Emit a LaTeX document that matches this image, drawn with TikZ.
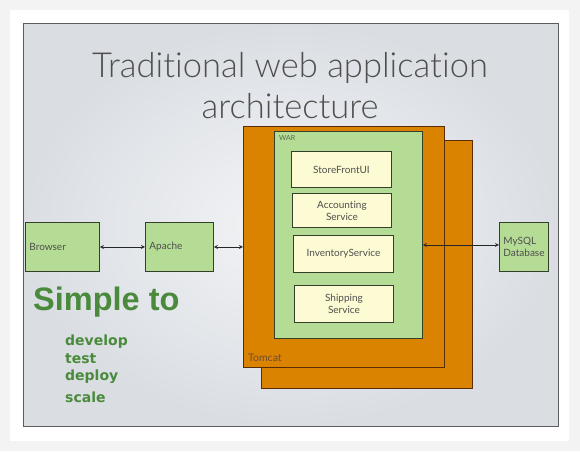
\documentclass[tikz,border=0pt]{standalone}
\usepackage{fontspec}
\setmainfont{Lato}[Ligatures=NoCommon]
\newfontfamily\titlefont{Lato Light}[Ligatures=NoCommon]
\newfontfamily\arialbold{Liberation Sans}[BoldFont=* Bold]
\newfontfamily\listfont{DejaVu Sans}
\usetikzlibrary{positioning,arrows,calc}

\definecolor{pagegray}{HTML}{F3F3F3}
\definecolor{slideedge}{HTML}{DADEE3}
\definecolor{slidemid}{HTML}{F3F4F6}
\definecolor{framegray}{HTML}{5C5C5C}
\definecolor{tomcatorange}{HTML}{D98300}
\definecolor{tomcatline}{HTML}{5A2D08}
\definecolor{boxgreen}{HTML}{B4DC94}
\definecolor{boxline}{HTML}{34402C}
\definecolor{cream}{HTML}{FDFBD3}
\definecolor{textgray}{HTML}{4F4F4F}
\definecolor{simplegreen}{HTML}{4A8A3C}

\begin{document}
\begin{tikzpicture}[x=1pt,y=-1pt,>=stealth,
            tier/.style={draw=boxline, fill=boxgreen, line width=0.9pt, anchor=north west,
                inner sep=0pt, inner xsep=4pt, align=left, text=textgray,
                font=\fontsize{10}{11.5}\selectfont},
            container/.style={draw=tomcatline, fill=tomcatorange, line width=0.9pt,
                anchor=north west, inner sep=0pt},
            service/.style={draw=boxline, fill=cream, line width=0.9pt, anchor=north west,
                inner sep=0pt, align=center, text=textgray,
                font=\fontsize{10}{12}\selectfont},
            link/.style={<->, line width=0.8pt, draw=black!85}]

            % page and slide
            \fill [pagegray] (0,0) rectangle (580,451);
            \fill [white] (10,10) rectangle (569,441);
            \useasboundingbox (0,0) rectangle (580,451);
            \draw [framegray, line width=1pt, inner color=slidemid, outer color=slideedge]
                (23,23) rectangle (558,426);

            \node [anchor=base, text=textgray, font=\titlefont\fontsize{34.5}{36}\selectfont]
                (title) at (290,77) {Traditional web application};
            \node [anchor=base, text=textgray, font=\titlefont\fontsize{34.5}{36}\selectfont]
                (title2) at (290,118) {architecture};

            % tomcat stack
            \node [container, minimum width=211pt, minimum height=248pt] (tomcat1) at (261,140) {};
            \node [container, minimum width=201pt, minimum height=241pt] (tomcat0) at (243,126) {};
            \node [anchor=south west, text=tomcatline!85, inner sep=0pt,
                font=\fontsize{10.5}{12}\selectfont] at ($(tomcat0.south west)+(5,-6)$) {Tomcat};

            \node [tier, minimum width=148pt, minimum height=207pt] (war) at (274,131) {};
            \node [anchor=north west, text=boxline!80, inner sep=0pt,
                font=\fontsize{7}{8}\selectfont] at ($(war.north west)+(5,4)$) {WAR};

            \node [service, minimum width=100pt, minimum height=36pt] (ui) at (291,151) {StoreFrontUI};
            \node [service, minimum width=99pt, minimum height=34pt] (acct) at (292,193) {Accounting\\Service};
            \node [service, minimum width=100pt, minimum height=37pt] (inv) at (293,235) {InventoryService};
            \node [service, minimum width=99pt, minimum height=37pt] (ship) at (294,285) {Shipping\\Service};

            % outer tiers
            \node [tier, minimum height=49pt, text width=66pt] (browser) at (25,222) {Browser};
            \node [tier, minimum height=49pt, text width=60pt] (apache) at (145,222) {Apache};
            \node [tier, minimum height=49pt, text width=41pt] (db) at (499,222) {MySQL\\Database};

            \draw [link] (browser) -- (apache);
            \draw [link] (apache.east) -- (apache.east -| tomcat0.west);
            \draw [link] ($(db.west)+(0,-2)$) -- ($(db.west -| war.east)+(0,-2)$);

            % text on the left
            \node [anchor=base west, inner sep=0pt, text=simplegreen,
                font=\arialbold\bfseries\fontsize{32.5}{34}\selectfont] (simple) at (33,310) {Simple to};
            \node [anchor=base west, inner sep=0pt, text=simplegreen,
                font=\listfont\bfseries\fontsize{14}{15}\selectfont] (l1) at (65,345) {develop};
            \node [anchor=base west, inner sep=0pt, text=simplegreen,
                font=\listfont\bfseries\fontsize{14}{15}\selectfont] (l2) at (65,363) {test};
            \node [anchor=base west, inner sep=0pt, text=simplegreen,
                font=\listfont\bfseries\fontsize{14}{15}\selectfont] (l3) at (65,380) {deploy};
            \node [anchor=base west, inner sep=0pt, text=simplegreen,
                font=\listfont\bfseries\fontsize{14}{15}\selectfont] (l4) at (65,402) {scale};
\end{tikzpicture}
\end{document}
